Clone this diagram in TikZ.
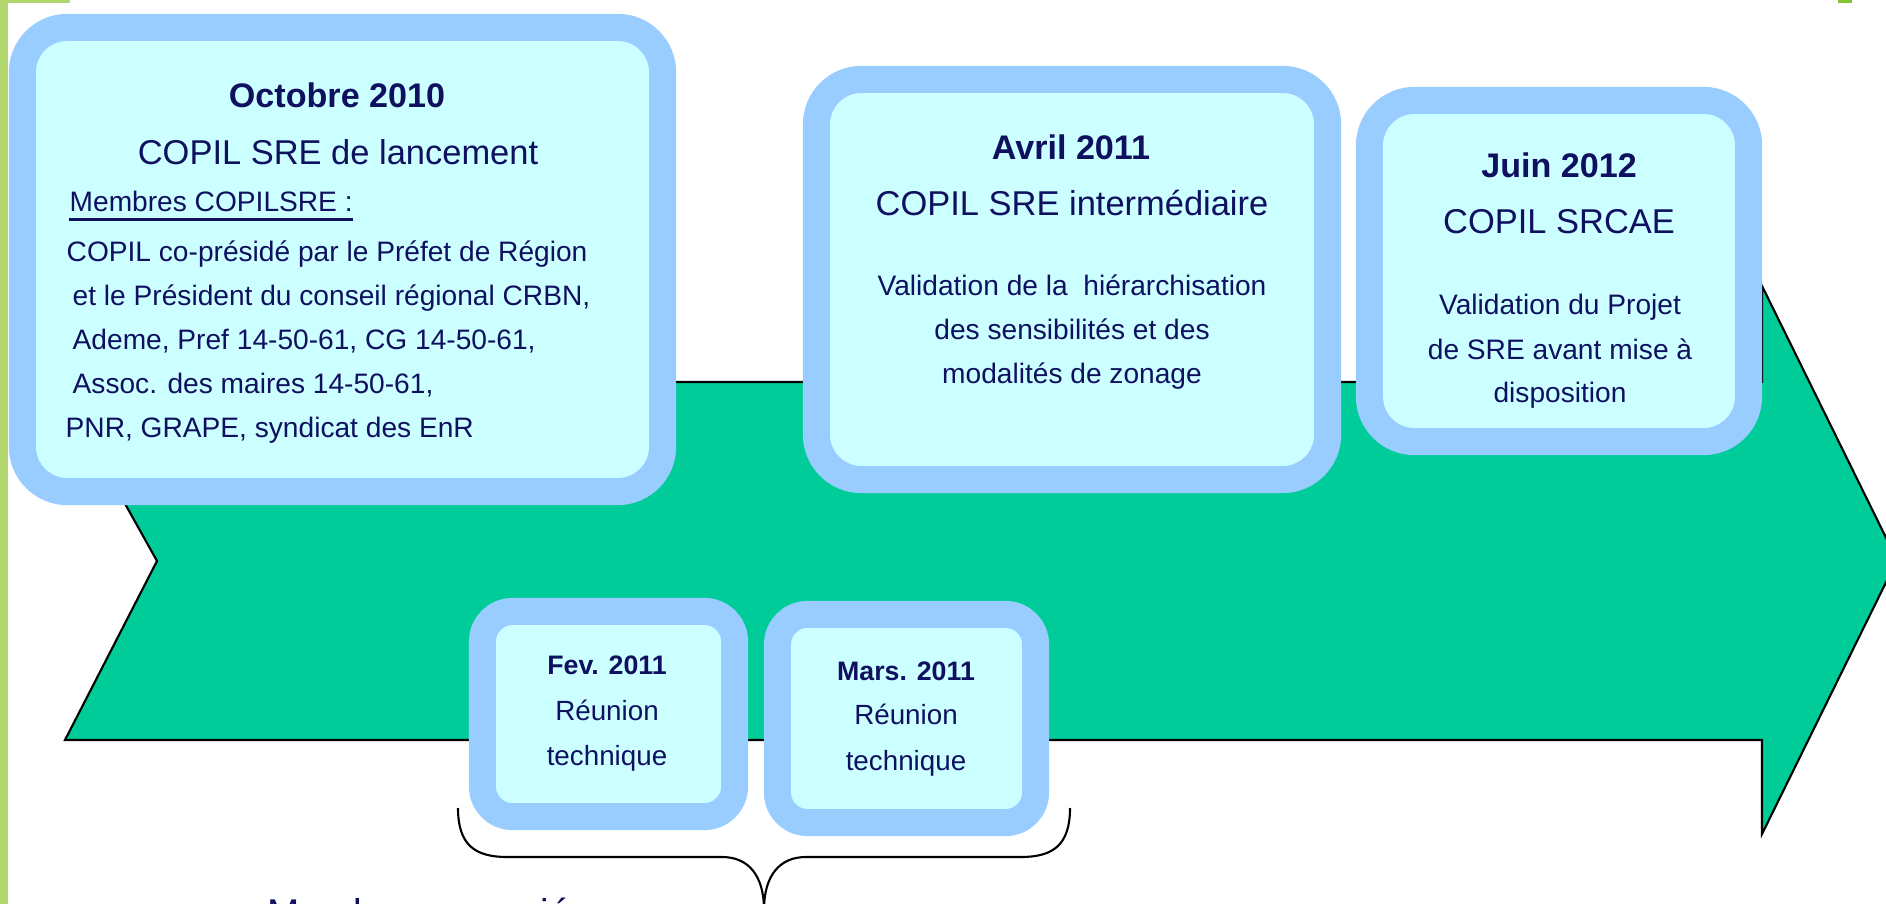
\documentclass[tikz,border=0pt]{standalone}
\usepackage{fontspec}
\setmainfont{Liberation Sans}
\definecolor{arrowgreen}{HTML}{00CC99}
\definecolor{boxedge}{HTML}{99CCFF}
\definecolor{boxfill}{HTML}{CCFFFF}
\definecolor{ink}{HTML}{101060}
\definecolor{leafgreen}{HTML}{B2D76E}
\definecolor{darkleaf}{HTML}{86C232}
\begin{document}
\begin{tikzpicture}[x=0.01cm,y=-0.01cm,
  bigbox/.style={draw=boxedge, fill=boxfill, line width=0.27cm, rounded corners=0.45cm, inner sep=0pt},
  smallbox/.style={bigbox, rounded corners=0.3cm},
  txt/.style={text=ink, inner sep=0pt, anchor=base},
  datelbl/.style={txt, font=\bfseries\fontsize{9.7}{12}\selectfont},
  titlelbl/.style={txt, font=\fontsize{9.8}{12}\selectfont},
  bodylbl/.style={txt, font=\fontsize{8}{10}\selectfont},
  smalldate/.style={txt, font=\bfseries\fontsize{7.6}{9}\selectfont},
  smallbody/.style={txt, font=\fontsize{7.9}{9}\selectfont}]
\useasboundingbox (0,0) rectangle (1886,904);
\clip (0,0) rectangle (1886,904);

% page trim
\fill[leafgreen] (0,0) rectangle (8,904);
\fill[leafgreen] (0,0) rectangle (70,3);
\fill[darkleaf] (1838,0) rectangle (1852,3);

% timeline arrow
\draw[fill=arrowgreen, draw=black, line width=0.6pt, line join=miter]
  (57,382) -- (1762,382) -- (1762,286) -- (1897,560) -- (1762,834)
  -- (1762,740) -- (65,740) -- (157,561) -- cycle;

% steering committee boxes
\node[bigbox, minimum width=6.40cm, minimum height=4.64cm] (oct) at (342.5,259.5) {};
\node[bigbox, minimum width=5.11cm, minimum height=4.00cm] (avr) at (1072,279.5) {};
\node[bigbox, minimum width=3.79cm, minimum height=3.41cm] (jun) at (1559,271) {};
\node[smallbox, minimum width=2.52cm, minimum height=2.05cm] (fev) at (608.5,714) {};
\node[smallbox, minimum width=2.58cm, minimum height=2.08cm] (mar) at (906.5,718.5) {};

% October 2010
\node[datelbl] (octdate) at (337,108) {Octobre 2010};
\node[titlelbl] (octtitle) at (338,165) {COPIL SRE de lancement};
\node[bodylbl, anchor=base west] (octmemb) at (69,212) {Membres COPILSRE :};
\draw[ink, line width=0.8pt] ([yshift=-2.2pt]octmemb.base west) -- ([yshift=-2.2pt]octmemb.base east);
\node[bodylbl, anchor=base west] (octl1) at (66,262) {COPIL co-présidé par le Préfet de Région};
\node[bodylbl, anchor=base west] (octl2) at (72,306) {et le Président du conseil régional CRBN,};
\node[bodylbl, anchor=base west] (octl3) at (72,350) {Ademe, Pref 14-50-61, CG 14-50-61,};
\node[bodylbl, anchor=base west] (octl4) at (72,394) {Assoc. des maires 14-50-61,};
\node[bodylbl, anchor=base west] (octl5) at (65,438) {PNR, GRAPE, syndicat des EnR};

% April 2011
\node[datelbl] (avrdate) at (1071,160) {Avril 2011};
\node[titlelbl] (avrtitle) at (1072,216) {COPIL SRE intermédiaire};
\node[bodylbl] (avrl1) at (1072,296) {Validation de la \ hiérarchisation};
\node[bodylbl] (avrl2) at (1072,340) {des sensibilités et des};
\node[bodylbl] (avrl3) at (1072,384) {modalités de zonage};

% June 2012
\node[datelbl] (jundate) at (1559,178) {Juin 2012};
\node[titlelbl] (juntitle) at (1559,234) {COPIL SRCAE};
\node[bodylbl] (junl1) at (1560,315) {Validation du Projet};
\node[bodylbl] (junl2) at (1560,360) {de SRE avant mise à};
\node[bodylbl] (junl3) at (1560,403) {disposition};

% technical meetings
\node[smalldate] (fevdate) at (607,675) {Fev. 2011};
\node[smallbody] (fevl1) at (607,720) {Réunion};
\node[smallbody] (fevl2) at (607,765) {technique};
\node[smalldate] (mardate) at (906,680) {Mars. 2011};
\node[smallbody] (marl1) at (906,725) {Réunion};
\node[smallbody] (marl2) at (906,770) {technique};

% brace grouping the technical meetings
\coordinate (braceL) at (458,808);
\coordinate (braceR) at (1070,808);
\coordinate (braceTip) at (764,910);
\draw[black, line width=0.6pt]
  (braceL) .. controls (458,845) and (475,857) .. (507,857) -- (722,857)
  .. controls (748,857) and (764,875) .. (braceTip);
\draw[black, line width=0.6pt]
  (braceR) .. controls (1070,845) and (1053,857) .. (1021,857) -- (806,857)
  .. controls (780,857) and (764,875) .. (braceTip);

% caption under the brace, running off the lower edge
\node[txt, font=\fontsize{11}{13}\selectfont, anchor=base west] (memberscap) at (267,926) {Membres associés};
\end{tikzpicture}
\end{document}
